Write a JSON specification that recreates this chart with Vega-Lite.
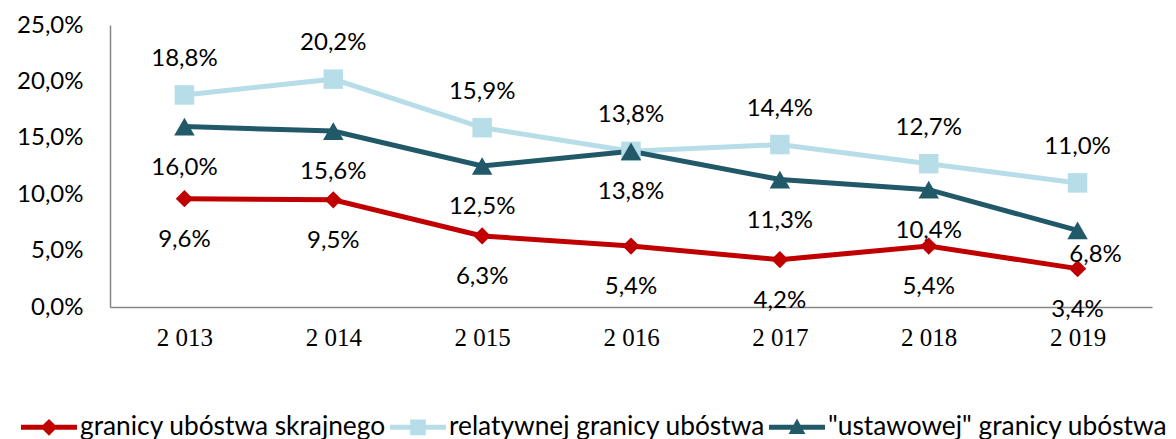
{
  "$schema": "https://vega.github.io/schema/vega-lite/v6.json",
  "width": 1042,
  "height": 282,
  "autosize": {"type": "none"},
  "padding": {"left": 110, "top": 25, "right": 24, "bottom": 132},
  "background": "white",
  "data": {
    "values": [
      {"year": 2013, "series": "granicy ubóstwa skrajnego", "value": 9.6},
      {"year": 2014, "series": "granicy ubóstwa skrajnego", "value": 9.5},
      {"year": 2015, "series": "granicy ubóstwa skrajnego", "value": 6.3},
      {"year": 2016, "series": "granicy ubóstwa skrajnego", "value": 5.4},
      {"year": 2017, "series": "granicy ubóstwa skrajnego", "value": 4.2},
      {"year": 2018, "series": "granicy ubóstwa skrajnego", "value": 5.4},
      {"year": 2019, "series": "granicy ubóstwa skrajnego", "value": 3.4},
      {"year": 2013, "series": "relatywnej granicy ubóstwa", "value": 18.8},
      {"year": 2014, "series": "relatywnej granicy ubóstwa", "value": 20.2},
      {"year": 2015, "series": "relatywnej granicy ubóstwa", "value": 15.9},
      {"year": 2016, "series": "relatywnej granicy ubóstwa", "value": 13.8},
      {"year": 2017, "series": "relatywnej granicy ubóstwa", "value": 14.4},
      {"year": 2018, "series": "relatywnej granicy ubóstwa", "value": 12.7},
      {"year": 2019, "series": "relatywnej granicy ubóstwa", "value": 11.0},
      {"year": 2013, "series": "\"ustawowej\" granicy ubóstwa", "value": 16.0},
      {"year": 2014, "series": "\"ustawowej\" granicy ubóstwa", "value": 15.6},
      {"year": 2015, "series": "\"ustawowej\" granicy ubóstwa", "value": 12.5},
      {"year": 2016, "series": "\"ustawowej\" granicy ubóstwa", "value": 13.8},
      {"year": 2017, "series": "\"ustawowej\" granicy ubóstwa", "value": 11.3},
      {"year": 2018, "series": "\"ustawowej\" granicy ubóstwa", "value": 10.4},
      {"year": 2019, "series": "\"ustawowej\" granicy ubóstwa", "value": 6.8}
    ]
  },
  "transform": [
    {"calculate": "replace(format(datum.value, '.1f'), '.', ',') + '%'", "as": "label"}
  ],
  "encoding": {
    "x": {
      "field": "year",
      "type": "ordinal",
      "scale": {"padding": 0.5},
      "axis": {
        "title": null,
        "labelAngle": 0,
        "ticks": false,
        "domainColor": "#868686",
        "domainWidth": 1.5,
        "labelFont": "Liberation Serif",
        "labelFontSize": 25,
        "labelColor": "black",
        "labelPadding": 18,
        "labelExpr": "'2 ' + substring(datum.label, 1)"
      }
    },
    "y": {
      "field": "value",
      "type": "quantitative",
      "scale": {"domain": [0, 25], "nice": false},
      "axis": {
        "title": null,
        "values": [0, 5, 10, 15, 20, 25],
        "grid": false,
        "ticks": false,
        "domainColor": "#868686",
        "domainWidth": 1.5,
        "labelFont": "Lato",
        "labelFontSize": 24,
        "labelColor": "black",
        "labelPadding": 27,
        "labelExpr": "replace(format(datum.value, '.1f'), '.', ',') + '%'"
      }
    },
    "color": {
      "field": "series",
      "type": "nominal",
      "scale": {
        "domain": ["granicy ubóstwa skrajnego", "relatywnej granicy ubóstwa", "\"ustawowej\" granicy ubóstwa"],
        "range": ["#C00000", "#B7DEE8", "#215968"]
      },
      "legend": {
        "title": null,
        "orient": "none",
        "legendX": -89,
        "legendY": 374,
        "direction": "horizontal",
        "symbolSize": 3136,
        "symbolType": "M-1,-0.09H1V0.09H-1Z",
        "labelFont": "Lato",
        "labelFontSize": 26.3,
        "labelColor": "black",
        "labelOffset": 3,
        "columnPadding": 4,
        "labelLimit": 0,
        "symbolStrokeWidth": 0,
        "encode": {
          "symbols": {
            "update": {
              "shape": {"signal": "datum.value === 'granicy ubóstwa skrajnego' ? 'M-1,-0.09H1V0.09H-1Z M0,-0.3L0.3,0L0,0.3L-0.3,0Z' : datum.value === 'relatywnej granicy ubóstwa' ? 'M-1,-0.09H1V0.09H-1Z M-0.28,-0.28H0.28V0.28H-0.28Z' : 'M-1,-0.09H1V0.09H-1Z M0,-0.32L0.3,0.24H-0.3Z'"},
              "size": {"value": 3136},
              "fill": {"scale": "color", "field": "value"},
              "strokeWidth": {"value": 0},
              "opacity": {"value": 1},
              "fillOpacity": {"value": 1}
            }
          }
        }
      }
    }
  },
  "layer": [
    {
      "mark": {"type": "line", "strokeWidth": 5}
    },
    {
      "transform": [{"filter": "datum.series === 'granicy ubóstwa skrajnego'"}],
      "mark": {"type": "point", "filled": true, "opacity": 1, "shape": "diamond", "size": 300}
    },
    {
      "transform": [{"filter": "datum.series === 'relatywnej granicy ubóstwa'"}],
      "mark": {"type": "point", "filled": true, "opacity": 1, "shape": "square", "size": 380}
    },
    {
      "transform": [{"filter": "datum.series === '\"ustawowej\" granicy ubóstwa'"}],
      "mark": {"type": "point", "filled": true, "opacity": 1, "shape": "triangle-up", "size": 420}
    },
    {
      "transform": [{"filter": "datum.series === 'relatywnej granicy ubóstwa'"}],
      "mark": {"type": "text", "font": "Lato", "fontSize": 24, "color": "black", "baseline": "middle", "dy": -36},
      "encoding": {"text": {"field": "label"}, "color": {"value": "black"}}
    },
    {
      "transform": [{"filter": "datum.series !== 'relatywnej granicy ubóstwa' && !(datum.series === '\"ustawowej\" granicy ubóstwa' && datum.year === 2019)"}],
      "mark": {"type": "text", "font": "Lato", "fontSize": 24, "color": "black", "baseline": "middle", "dy": 41},
      "encoding": {"text": {"field": "label"}, "color": {"value": "black"}}
    },
    {
      "transform": [{"filter": "datum.series === '\"ustawowej\" granicy ubóstwa' && datum.year === 2019"}],
      "mark": {"type": "text", "font": "Lato", "fontSize": 24, "color": "black", "baseline": "middle", "dy": 25, "dx": 18},
      "encoding": {"text": {"field": "label"}, "color": {"value": "black"}}
    }
  ],
  "config": {
    "view": {"stroke": null}
  }
}
